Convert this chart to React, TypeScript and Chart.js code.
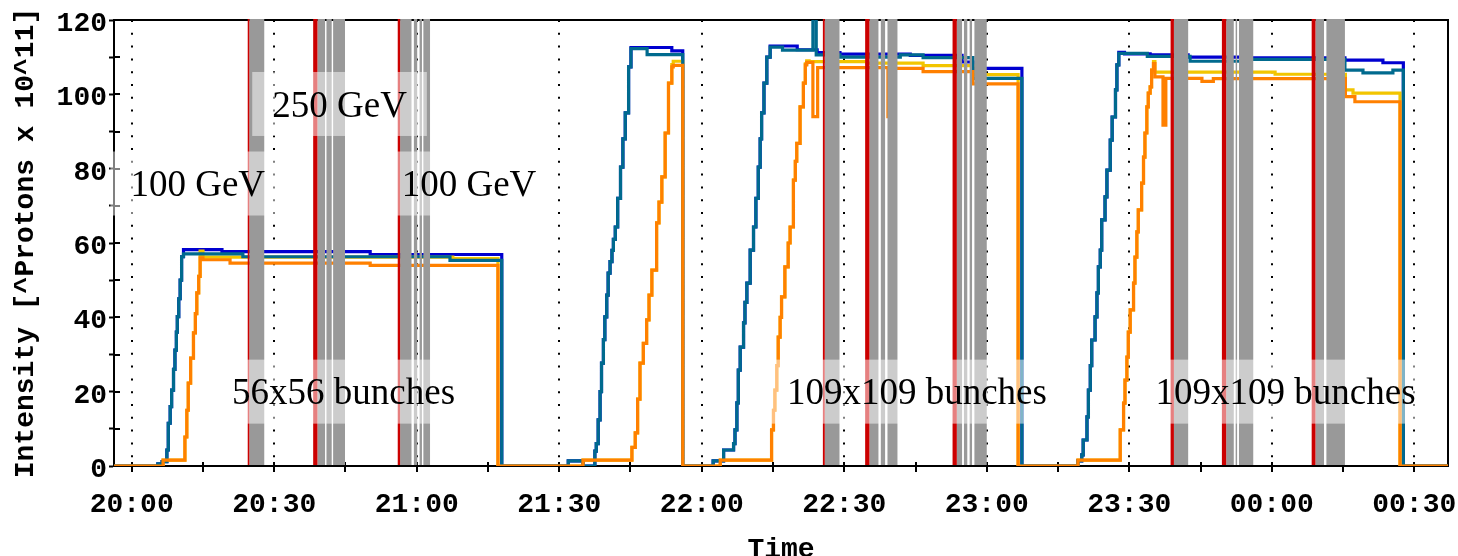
import React, { useEffect, useRef } from 'react';
import { Chart, registerables } from 'chart.js';

Chart.register(...registerables);

// Time axis: minutes after 20:00
const X_MIN = -3.73;
const X_MAX = 277.1;
const timeLabels = ['20:00', '20:30', '21:00', '21:30', '22:00', '22:30', '23:00', '23:30', '00:00', '00:30'];
const yMin = 0;
const yMax = 120;

// [minute, intensity] — value changes to v at minute t (step plot)
const blueSeries: [number, number][] = [
  [-3.7, 0], [5.5, 0.6], [6.4, 1.2], [7.4, 4.3], [7.7, 11.5], [8.1, 16], [8.4, 20.4], [8.8, 26], [9.1, 31.2],
  [9.4, 36], [9.6, 40.2], [9.9, 45], [10.2, 50], [10.5, 56.3], [10.9, 58.2], [19.0, 57.7], [50.2, 56.9], [77.9, 0],
  [91.9, 1.4], [95.0, 0], [97.5, 4], [97.8, 6], [98.2, 12.4], [98.6, 20], [98.9, 27.7], [99.3, 34], [99.6, 40.1],
  [100.0, 46], [100.3, 51.9], [100.7, 55], [101.1, 58], [101.4, 61], [101.8, 64.3], [102.3, 72], [102.9, 80.4],
  [103.4, 88], [103.9, 95], [104.6, 107.4], [105.1, 112.6], [113.7, 111.7], [116.0, 0],
  [122.4, 1.4], [124.6, 4.3], [126.7, 6], [127.0, 9.7], [127.4, 17], [127.7, 25.8], [128.1, 32], [128.8, 38.5],
  [129.1, 44], [129.5, 49.2], [130.2, 58.1], [130.9, 64.3], [131.4, 72], [131.9, 80.4], [132.3, 88], [132.6, 95],
  [133.1, 103], [133.7, 110], [134.4, 113.0], [140.1, 112.0], [144.3, 111.2], [149.1, 110.8], [163.9, 110.5],
  [174.8, 108.7], [177.1, 107.0], [187.4, 0],
  [199.2, 1.4], [200.0, 3], [200.3, 7], [201.1, 13.2], [201.4, 20.4], [201.8, 27], [202.1, 33.9], [202.8, 40.1],
  [203.2, 46.6], [203.5, 53.6], [203.9, 58.1], [204.2, 66.2], [204.9, 72.4], [205.3, 79.6], [206.0, 87.7],
  [206.4, 93.9], [207.1, 101.2], [207.4, 107.9], [207.8, 111.3], [209.0, 110.9], [214.4, 110.6], [222.4, 110.0],
  [234.0, 109.8], [255.4, 109.2], [263.4, 108.5], [267.7, 0], [277.1, 0],
];

const tealSeries: [number, number][] = [
  [-3.7, 0], [5.5, 0.6], [6.4, 1.2], [7.4, 4.3], [7.7, 11.5], [8.1, 16], [8.4, 20.4], [8.8, 26], [9.1, 31.2],
  [9.4, 36], [9.6, 40.2], [9.9, 45], [10.2, 50], [10.5, 56.3], [10.9, 57.1], [23.4, 56.3], [67.0, 55.3], [77.9, 0],
  [91.9, 1.4], [95.0, 0], [97.5, 4], [97.8, 6], [98.2, 12.4], [98.6, 20], [98.9, 27.7], [99.3, 34], [99.6, 40.1],
  [100.0, 46], [100.3, 51.9], [100.7, 55], [101.1, 58], [101.4, 61], [101.8, 64.3], [102.3, 72], [102.9, 80.4],
  [103.4, 88], [103.9, 95], [104.6, 107.4], [105.1, 112.3], [108.5, 110.7], [116.0, 0],
  [122.4, 1.4], [124.6, 4.3], [126.7, 6], [127.0, 9.7], [127.4, 17], [127.7, 25.8], [128.1, 32], [128.8, 38.5],
  [129.1, 44], [129.5, 49.2], [130.2, 58.1], [130.9, 64.3], [131.4, 72], [131.9, 80.4], [132.3, 88], [132.6, 95],
  [133.1, 103], [133.7, 110], [134.4, 112.7], [137.0, 111.9], [143.4, 125], [144.1, 110.6], [149.1, 110.0],
  [161.8, 110.6], [166.6, 109.9], [177.1, 104.3], [187.4, 0],
  [199.2, 1.4], [200.0, 3], [200.3, 7], [201.1, 13.2], [201.4, 20.4], [201.8, 27], [202.1, 33.9], [202.8, 40.1],
  [203.2, 46.6], [203.5, 53.6], [203.9, 58.1], [204.2, 66.2], [204.9, 72.4], [205.3, 79.6], [206.0, 87.7],
  [206.4, 93.9], [207.1, 101.2], [207.4, 107.9], [207.8, 111.0], [213.8, 110.2], [222.8, 108.9], [234.0, 109.4],
  [255.4, 106.5], [259.2, 105.8], [265.5, 106.5], [267.7, 0], [277.1, 0],
];

const yellowSeries: [number, number][] = [
  [-3.7, 0], [6.6, 1.6], [11.2, 7.8], [11.6, 15], [11.9, 22.3], [12.4, 29], [13.0, 35.8], [13.4, 41], [13.7, 46.6],
  [14.1, 51], [14.4, 57.8], [15.0, 56.2], [67.6, 55.8], [77.1, 0],
  [95.0, 1.6], [105.3, 5], [106.0, 8.9], [106.5, 18], [107.0, 27.7], [107.7, 33], [108.4, 39.3], [108.9, 46],
  [109.5, 52.7], [110.5, 65.4], [111.0, 71], [111.6, 77.8], [112.3, 89.6], [113.0, 103], [113.7, 108], [114.0, 108.9],
  [116.0, 0],
  [123.9, 1.6], [134.7, 9.7], [135.1, 15], [135.4, 20.4], [135.8, 27], [136.1, 34.7], [136.5, 40], [136.8, 45.5],
  [137.5, 53.6], [138.2, 60], [138.6, 64.3], [139.3, 76.9], [139.7, 82], [140.0, 86.8], [140.7, 96.6], [141.4, 103],
  [141.8, 108.2], [142.1, 109.0], [142.6, 108.8], [154.8, 108.4], [166.6, 107.7], [177.1, 105.3], [186.6, 0],
  [199.2, 1.6], [208.1, 9.7], [208.8, 16.9], [209.1, 23.1], [209.5, 29.3], [209.8, 36], [210.2, 42], [210.9, 49.2],
  [211.2, 56.2], [211.6, 63], [211.9, 68.9], [212.6, 76.1], [213.0, 83.1], [213.3, 89.6], [213.7, 96.6],
  [214.0, 100.3], [214.4, 102], [214.7, 106.5], [215.1, 108.8], [215.4, 106.0], [240.7, 105.4], [255.5, 101.2],
  [257.1, 100.3], [267.0, 0], [277.1, 0],
];

const orangeSeries: [number, number][] = [
  [-3.7, 0], [6.6, 1.6], [11.2, 7.8], [11.6, 15], [11.9, 22.3], [12.4, 29], [13.0, 35.8], [13.4, 41], [13.7, 46.6],
  [14.1, 51], [14.4, 56.0], [15.0, 55.5], [20.7, 54.6], [50.2, 54.0], [77.1, 0],
  [95.0, 1.6], [105.3, 5], [106.0, 8.9], [106.5, 18], [107.0, 27.7], [107.7, 33], [108.4, 39.3], [108.9, 46],
  [109.5, 52.7], [110.5, 65.4], [111.0, 71], [111.6, 77.8], [112.3, 89.6], [113.0, 103], [113.7, 107.4],
  [114.0, 107.8], [116.0, 0],
  [123.9, 1.6], [134.7, 9.7], [135.1, 15], [135.4, 20.4], [135.8, 27], [136.1, 34.7], [136.5, 40], [136.8, 45.5],
  [137.5, 53.6], [138.2, 60], [138.6, 64.3], [139.3, 76.9], [139.7, 82], [140.0, 86.8], [140.7, 96.6], [141.4, 103],
  [141.8, 107.9], [142.1, 108.6], [143.4, 94], [144.4, 107.2], [159.2, 94], [159.7, 107.0], [166.6, 106.1],
  [177.1, 102.8], [186.6, 0],
  [199.2, 1.6], [208.1, 9.7], [208.8, 16.9], [209.1, 23.1], [209.5, 29.3], [209.8, 36], [210.2, 42], [210.9, 49.2],
  [211.2, 56.2], [211.6, 63], [211.9, 68.9], [212.6, 76.1], [213.0, 83.1], [213.3, 89.6], [213.7, 96.6],
  [214.0, 100.3], [214.4, 102], [214.7, 106.5], [215.1, 108.3], [215.4, 104.7], [217.1, 91.7], [217.7, 104.3],
  [225.3, 103.5], [227.7, 104.2], [255.5, 99.4], [257.5, 98.0], [267.0, 0], [277.1, 0],
];

// Vertical event markers [start, end] in minutes
const redLines: [number, number][] = [
  [24.42, 24.76], [38.2, 39.1], [56.0, 56.5], [145.5, 145.9], [154.4, 155.3], [172.8, 173.7],
  [218.7, 219.4], [229.5, 230.4], [248.4, 249.2],
];
const grayBands: [number, number][] = [
  [24.76, 27.9],
  [39.1, 40.7], [41.0, 42.1], [42.4, 44.9],
  [56.5, 58.9], [59.4, 60.1], [60.6, 61.1], [61.4, 62.8],
  [145.9, 149.0],
  [155.3, 157.2], [157.7, 158.6], [159.1, 161.2],
  [173.7, 174.8], [175.2, 175.9], [176.4, 176.9], [177.4, 180.0],
  [219.4, 222.4],
  [230.4, 232.0], [232.4, 232.7], [233.1, 236.1],
  [249.2, 251.0], [251.5, 255.4],
];

// Text annotations at (minute, intensity)
const annotTexts = ['100 GeV', '250 GeV', '100 GeV', '56x56 bunches', '109x109 bunches', '109x109 bunches'];
const annotT = [13.9, 43.75, 71.0, 44.6, 165.3, 242.9];
const annotV = [75.2, 96.6, 75.2, 19.2, 19.2, 19.2];

const MONO = '"Liberation Mono", "DejaVu Sans Mono", monospace';

export default function App() {
  const ref = useRef<HTMLCanvasElement>(null);

  useEffect(() => {
    const canvas = ref.current;
    if (!canvas) return;
    const pts = (a: [number, number][]) => a.map(([x, y]) => ({ x, y }));

    const framePlugin = {
      id: 'frame',
      beforeDatasetsDraw(chart: any) {
        const { ctx, chartArea: a, scales } = chart;
        ctx.save();
        ctx.strokeStyle = '#000';
        ctx.lineWidth = 2;
        ctx.beginPath();
        ctx.moveTo(a.left, a.top);
        ctx.lineTo(a.right, a.top);
        ctx.lineTo(a.right, a.bottom);
        ctx.stroke();
        // inner halves of tick marks
        ctx.beginPath();
        scales.y.ticks.forEach((t: any) => {
          const y = Math.round(scales.y.getPixelForValue(t.value));
          ctx.moveTo(a.left, y);
          ctx.lineTo(a.left + 6, y);
        });
        scales.x.ticks.forEach((t: any) => {
          const x = Math.round(scales.x.getPixelForValue(t.value));
          ctx.moveTo(x, a.bottom);
          ctx.lineTo(x, a.bottom - 4);
        });
        ctx.stroke();
        ctx.restore();
      },
      afterDatasetsDraw(chart: any) {
        const { ctx, chartArea: a, scales } = chart;
        const xs = scales.x;
        const ys = scales.y;
        ctx.save();
        const top = a.top - 1;
        const h = a.bottom - 1 - top;
        ctx.fillStyle = '#999999';
        grayBands.forEach(([s, e]) => {
          const x1 = xs.getPixelForValue(s);
          const x2 = xs.getPixelForValue(e);
          ctx.fillRect(x1, top, x2 - x1, h);
        });
        ctx.fillStyle = '#cc0000';
        redLines.forEach(([s, e]) => {
          const x1 = xs.getPixelForValue(s);
          const x2 = xs.getPixelForValue(e);
          ctx.fillRect(x1, top, x2 - x1, h);
        });
        ctx.font = '37px "Liberation Serif", "Times New Roman", serif';
        ctx.textAlign = 'center';
        ctx.textBaseline = 'middle';
        annotTexts.forEach((txt, i) => {
          const cx = xs.getPixelForValue(annotT[i]);
          const cy = ys.getPixelForValue(annotV[i]);
          const w = ctx.measureText(txt).width;
          ctx.fillStyle = 'rgba(255,255,255,0.5)';
          ctx.fillRect(cx - w / 2 - 20, cy - 35, w + 40, 64);
        });
        ctx.fillStyle = '#000';
        annotTexts.forEach((txt, i) => {
          const cx = xs.getPixelForValue(annotT[i]);
          const cy = ys.getPixelForValue(annotV[i]);
          ctx.fillText(txt, cx, cy);
        });
        ctx.restore();
      },
    };

    const common = { borderWidth: 3.2, pointRadius: 0, stepped: true, fill: false, tension: 0 };

    const chart = new Chart(canvas, {
      type: 'line',
      data: {
        datasets: [
          { ...common, label: 'blue', data: pts(blueSeries), borderColor: '#0000d0', order: 4 },
          { ...common, label: 'yellow', data: pts(yellowSeries), borderColor: '#f2c500', order: 3 },
          { ...common, label: 'teal', data: pts(tealSeries), borderColor: '#006a8e', order: 2 },
          { ...common, label: 'orange', data: pts(orangeSeries), borderColor: '#ff8000', order: 1 },
        ] as any,
      },
      options: {
        responsive: false,
        animation: false,
        devicePixelRatio: 1,
        layout: { padding: { left: 0, top: 20, right: 10, bottom: 0 } },
        plugins: { legend: { display: false }, tooltip: { enabled: false } },
        scales: {
          x: {
            type: 'linear',
            min: X_MIN,
            max: X_MAX,
            afterFit: (s: any) => { s.height = 90; s.paddingLeft = 0; s.paddingRight = 0; },
            ticks: {
              stepSize: 15,
              includeBounds: false,
              autoSkip: false,
              maxRotation: 0,
              minRotation: 0,
              padding: 16,
              color: '#000',
              font: { family: MONO, size: 28, weight: 'bold' },
              callback: (v: any) => {
                const n = Number(v);
                return n % 30 === 0 ? timeLabels[n / 30] ?? '' : '';
              },
            },
            grid: {
              color: (c: any) => (c.tick && c.tick.value % 30 === 0 ? '#000' : 'rgba(0,0,0,0)'),
              lineWidth: 2,
              tickColor: '#000',
              tickWidth: 2,
              tickLength: 6,
            },
            border: { display: true, color: '#000', width: 2, dash: [2, 10.8] },
            title: {
              display: true,
              text: 'Time',
              color: '#000',
              font: { family: MONO, size: 28, weight: 'bold' },
              padding: { top: 0, bottom: -11 },
            },
          },
          y: {
            type: 'linear',
            min: yMin,
            max: yMax,
            afterFit: (s: any) => { s.width = 114; s.paddingTop = 0; s.paddingBottom = 0; },
            ticks: {
              stepSize: 10,
              padding: 2,
              labelOffset: 4,
              color: '#000',
              font: { family: MONO, size: 28, weight: 'bold' },
              callback: (v: any) => (Number(v) % 20 === 0 ? String(v) : ''),
            },
            grid: {
              drawOnChartArea: false,
              color: '#000',
              tickColor: '#000',
              tickWidth: 2,
              tickLength: 5,
            },
            border: { display: true, color: '#000', width: 2 },
            title: {
              display: true,
              text: 'Intensity [^Protons x 10^11]',
              color: '#000',
              font: { family: MONO, size: 28, weight: 'bold' },
              padding: { top: 9, bottom: 0 },
            },
          },
        },
      } as any,
      plugins: [framePlugin],
    });

    return () => chart.destroy();
  }, []);

  return (
    <div style={{ position: 'absolute', left: 0, top: 0, width: 1458, height: 556, background: '#fff' }}>
      <canvas ref={ref} width={1458} height={556} style={{ display: 'block', width: 1458, height: 556 }} />
    </div>
  );
}
